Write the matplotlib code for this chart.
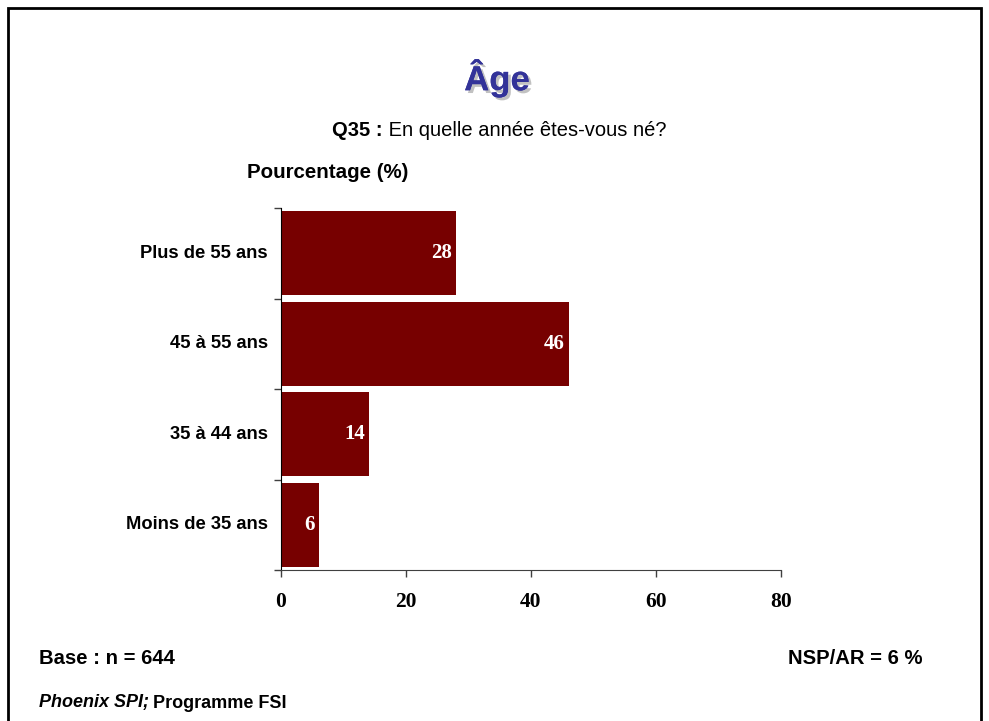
import matplotlib
matplotlib.use('Agg')
import matplotlib.pyplot as plt
import matplotlib.patheffects as pe
from matplotlib.patches import Rectangle

# données
categories = ['Plus de 55 ans', '45 à 55 ans', '35 à 44 ans', 'Moins de 35 ans']
valeurs = [28, 46, 14, 6]
x_ticks = [0, 20, 40, 60, 80]

SANS = 'Liberation Sans'
SERIF = 'Liberation Serif'
BAR_COLOR = '#770000'
W, H = 989, 721

fig = plt.figure(figsize=(W / 100, H / 100), dpi=100)
ax = fig.add_axes([281 / W, 1 - 570 / H, 500 / W, 362 / H])

y = list(range(len(categories)))
ax.barh(y, valeurs, height=0.93, color=BAR_COLOR)
ax.set_ylim(len(categories) - 0.5, -0.5)
ax.set_xlim(0, 80)

# étiquettes des barres
for yi, v in zip(y, valeurs):
    ax.text(v - 0.6, yi, str(v), ha='right', va='center', color='white',
            fontsize=15, fontweight='bold', family=SERIF)

# axe x
ax.set_xticks(x_ticks)
ax.set_xticklabels([str(t) for t in x_ticks], fontsize=15.5, fontweight='bold', family=SERIF)
ax.tick_params(axis='x', length=5, width=1, color='#404040', pad=11)

# axe y : graduations aux limites, libellés au centre
ax.set_yticks([i - 0.5 for i in range(len(categories) + 1)])
ax.set_yticklabels([])
ax.tick_params(axis='y', length=5, width=1, color='#404040')
for yi, c in zip(y, categories):
    ax.text(-2.1, yi, c, ha='right', va='center', fontsize=13.2, fontweight='bold', family=SANS)

for s in ['top', 'right']:
    ax.spines[s].set_visible(False)
ax.spines['left'].set_color('#000000')
ax.spines['bottom'].set_color('#404040')

# cadre
fig.patches.append(Rectangle((8 / W, -0.01), 973 / W, 1 - 8 / H + 0.01, transform=fig.transFigure,
                             fill=False, edgecolor='black', linewidth=2))

# titre
fig.text(497 / W, 1 - 78 / H, 'Âge', ha='center', va='center', fontsize=25, fontweight='bold',
         color='#333399', family=SANS,
         path_effects=[pe.withSimplePatchShadow(offset=(2, -2), shadow_rgbFace='#999999', alpha=0.6),
                       pe.Normal()])

# sous-titre (partie grasse + partie normale)
fig.canvas.draw()
renderer = fig.canvas.get_renderer()
q1 = fig.text(0, 1 - 131 / H, 'Q35 :', ha='left', va='center', fontsize=14.5, fontweight='bold', family=SANS)
q2 = fig.text(0, 1 - 131 / H, ' En quelle année êtes-vous né?', ha='left', va='center', fontsize=14.5,
              family=SANS)
w1 = q1.get_window_extent(renderer).width
w2 = q2.get_window_extent(renderer).width
x0 = 499 - (w1 + w2) / 2
q1.set_x(x0 / W)
q2.set_x((x0 + w1) / W)

fig.text(247 / W, 1 - 173 / H, 'Pourcentage (%)', ha='left', va='center', fontsize=14.8,
         fontweight='bold', family=SANS)

# pied de page
fig.text(39 / W, 1 - 658 / H, 'Base : n = 644', ha='left', va='center', fontsize=14.6,
         fontweight='bold', family=SANS)
fig.text(922 / W, 1 - 658 / H, 'NSP/AR = 6 %', ha='right', va='center', fontsize=14.6,
         fontweight='bold', family=SANS)
t = fig.text(39 / W, 1 - 703 / H, 'Phoenix SPI;', ha='left', va='center', fontsize=13,
             fontweight='bold', style='italic', family=SANS)
bb = t.get_window_extent(renderer)
fig.text((bb.x1 + 4) / W, 1 - 703 / H, 'Programme FSI', ha='left', va='center', fontsize=13,
         fontweight='bold', family=SANS)

plt.savefig('out.png', dpi=100)
